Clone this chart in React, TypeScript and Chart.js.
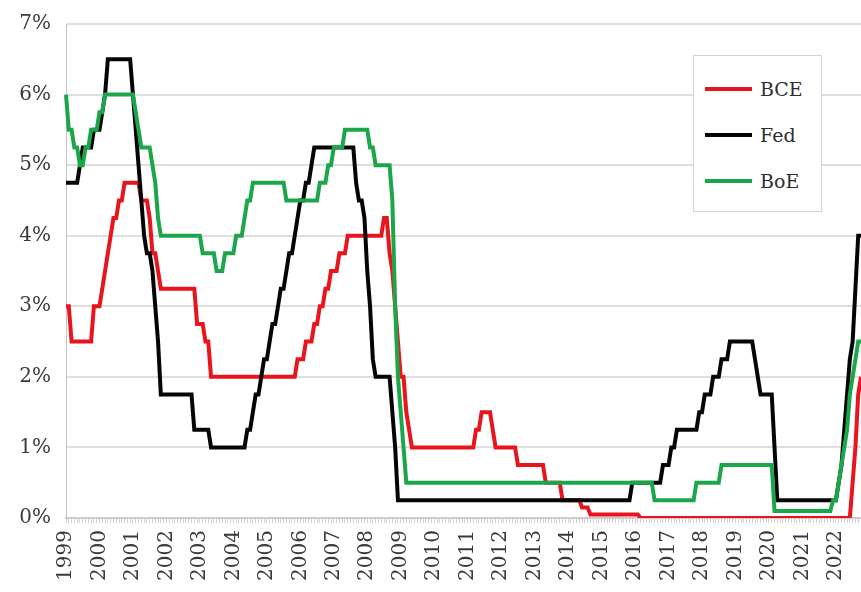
import React, { useEffect, useRef } from 'react';
import { Chart, registerables } from 'chart.js';

Chart.register(...registerables);

// Years shown on the x axis (one category per month, Jan 1999 – Oct 2022)
const yearLabels = [
  '1999', '2000', '2001', '2002', '2003', '2004', '2005', '2006',
  '2007', '2008', '2009', '2010', '2011', '2012', '2013', '2014',
  '2015', '2016', '2017', '2018', '2019', '2020', '2021', '2022',
];
const monthCodes = ['01', '02', '03', '04', '05', '06', '07', '08', '09', '10', '11', '12'];

// BCE (ECB) policy rate, %
const bce: number[] = [
  3.0, 3.0, 2.5, 2.5, 2.5, 2.5, 2.5, 2.5, 2.5, 2.5, 3.0, 3.0, // 1999
  3.0, 3.25, 3.5, 3.75, 4.0, 4.25, 4.25, 4.5, 4.5, 4.75, 4.75, 4.75, // 2000
  4.75, 4.75, 4.75, 4.5, 4.5, 4.5, 4.25, 3.75, 3.75, 3.5, 3.25, 3.25, // 2001
  3.25, 3.25, 3.25, 3.25, 3.25, 3.25, 3.25, 3.25, 3.25, 3.25, 3.25, 2.75, // 2002
  2.75, 2.75, 2.5, 2.5, 2.0, 2.0, 2.0, 2.0, 2.0, 2.0, 2.0, 2.0, // 2003
  2.0, 2.0, 2.0, 2.0, 2.0, 2.0, 2.0, 2.0, 2.0, 2.0, 2.0, 2.0, // 2004
  2.0, 2.0, 2.0, 2.0, 2.0, 2.0, 2.0, 2.0, 2.0, 2.0, 2.0, 2.25, // 2005
  2.25, 2.25, 2.5, 2.5, 2.5, 2.75, 2.75, 3.0, 3.0, 3.25, 3.25, 3.5, // 2006
  3.5, 3.5, 3.75, 3.75, 3.75, 4.0, 4.0, 4.0, 4.0, 4.0, 4.0, 4.0, // 2007
  4.0, 4.0, 4.0, 4.0, 4.0, 4.0, 4.25, 4.25, 3.75, 3.5, 3.0, 2.5, // 2008
  2.0, 2.0, 1.5, 1.25, 1.0, 1.0, 1.0, 1.0, 1.0, 1.0, 1.0, 1.0, // 2009
  1.0, 1.0, 1.0, 1.0, 1.0, 1.0, 1.0, 1.0, 1.0, 1.0, 1.0, 1.0, // 2010
  1.0, 1.0, 1.0, 1.25, 1.25, 1.5, 1.5, 1.5, 1.5, 1.25, 1.0, 1.0, // 2011
  1.0, 1.0, 1.0, 1.0, 1.0, 1.0, 0.75, 0.75, 0.75, 0.75, 0.75, 0.75, // 2012
  0.75, 0.75, 0.75, 0.75, 0.5, 0.5, 0.5, 0.5, 0.5, 0.5, 0.25, 0.25, // 2013
  0.25, 0.25, 0.25, 0.25, 0.25, 0.15, 0.15, 0.15, 0.05, 0.05, 0.05, 0.05, // 2014
  0.05, 0.05, 0.05, 0.05, 0.05, 0.05, 0.05, 0.05, 0.05, 0.05, 0.05, 0.05, // 2015
  0.05, 0.05, 0, 0, 0, 0, 0, 0, 0, 0, 0, 0, // 2016
  0, 0, 0, 0, 0, 0, 0, 0, 0, 0, 0, 0, // 2017
  0, 0, 0, 0, 0, 0, 0, 0, 0, 0, 0, 0, // 2018
  0, 0, 0, 0, 0, 0, 0, 0, 0, 0, 0, 0, // 2019
  0, 0, 0, 0, 0, 0, 0, 0, 0, 0, 0, 0, // 2020
  0, 0, 0, 0, 0, 0, 0, 0, 0, 0, 0, 0, // 2021
  0, 0, 0, 0, 0, 0, 0.5, 1.0, 1.75, 2.0, // 2022
];

// Fed funds rate (upper bound), %
const fed: number[] = [
  4.75, 4.75, 4.75, 4.75, 4.75, 5.0, 5.25, 5.25, 5.25, 5.25, 5.5, 5.5, // 1999
  5.5, 5.75, 6.0, 6.5, 6.5, 6.5, 6.5, 6.5, 6.5, 6.5, 6.5, 6.5, // 2000
  6.0, 5.5, 5.0, 4.5, 4.0, 3.75, 3.75, 3.5, 3.0, 2.5, 1.75, 1.75, // 2001
  1.75, 1.75, 1.75, 1.75, 1.75, 1.75, 1.75, 1.75, 1.75, 1.75, 1.25, 1.25, // 2002
  1.25, 1.25, 1.25, 1.25, 1.0, 1.0, 1.0, 1.0, 1.0, 1.0, 1.0, 1.0, // 2003
  1.0, 1.0, 1.0, 1.0, 1.0, 1.25, 1.25, 1.5, 1.75, 1.75, 2.0, 2.25, // 2004
  2.25, 2.5, 2.75, 2.75, 3.0, 3.25, 3.25, 3.5, 3.75, 3.75, 4.0, 4.25, // 2005
  4.5, 4.5, 4.75, 4.75, 5.0, 5.25, 5.25, 5.25, 5.25, 5.25, 5.25, 5.25, // 2006
  5.25, 5.25, 5.25, 5.25, 5.25, 5.25, 5.25, 5.25, 4.75, 4.5, 4.5, 4.25, // 2007
  3.5, 3.0, 2.25, 2.0, 2.0, 2.0, 2.0, 2.0, 2.0, 1.5, 1.0, 0.25, // 2008
  0.25, 0.25, 0.25, 0.25, 0.25, 0.25, 0.25, 0.25, 0.25, 0.25, 0.25, 0.25, // 2009
  0.25, 0.25, 0.25, 0.25, 0.25, 0.25, 0.25, 0.25, 0.25, 0.25, 0.25, 0.25, // 2010
  0.25, 0.25, 0.25, 0.25, 0.25, 0.25, 0.25, 0.25, 0.25, 0.25, 0.25, 0.25, // 2011
  0.25, 0.25, 0.25, 0.25, 0.25, 0.25, 0.25, 0.25, 0.25, 0.25, 0.25, 0.25, // 2012
  0.25, 0.25, 0.25, 0.25, 0.25, 0.25, 0.25, 0.25, 0.25, 0.25, 0.25, 0.25, // 2013
  0.25, 0.25, 0.25, 0.25, 0.25, 0.25, 0.25, 0.25, 0.25, 0.25, 0.25, 0.25, // 2014
  0.25, 0.25, 0.25, 0.25, 0.25, 0.25, 0.25, 0.25, 0.25, 0.25, 0.25, 0.5, // 2015
  0.5, 0.5, 0.5, 0.5, 0.5, 0.5, 0.5, 0.5, 0.5, 0.5, 0.75, 0.75, // 2016
  0.75, 1.0, 1.0, 1.25, 1.25, 1.25, 1.25, 1.25, 1.25, 1.25, 1.25, 1.5, // 2017
  1.5, 1.75, 1.75, 1.75, 2.0, 2.0, 2.0, 2.25, 2.25, 2.25, 2.5, 2.5, // 2018
  2.5, 2.5, 2.5, 2.5, 2.5, 2.5, 2.5, 2.25, 2.0, 1.75, 1.75, 1.75, // 2019
  1.75, 1.75, 1.0, 0.25, 0.25, 0.25, 0.25, 0.25, 0.25, 0.25, 0.25, 0.25, // 2020
  0.25, 0.25, 0.25, 0.25, 0.25, 0.25, 0.25, 0.25, 0.25, 0.25, 0.25, 0.25, // 2021
  0.25, 0.5, 0.75, 1.25, 1.75, 2.25, 2.5, 3.25, 4.0, 4.0, // 2022
];

// BoE Bank Rate, %
const boe: number[] = [
  6.0, 5.5, 5.5, 5.25, 5.25, 5.0, 5.0, 5.25, 5.25, 5.5, 5.5, 5.5, // 1999
  5.75, 5.75, 6.0, 6.0, 6.0, 6.0, 6.0, 6.0, 6.0, 6.0, 6.0, 6.0, // 2000
  6.0, 5.75, 5.5, 5.25, 5.25, 5.25, 5.25, 5.0, 4.75, 4.25, 4.0, 4.0, // 2001
  4.0, 4.0, 4.0, 4.0, 4.0, 4.0, 4.0, 4.0, 4.0, 4.0, 4.0, 4.0, // 2002
  4.0, 3.75, 3.75, 3.75, 3.75, 3.75, 3.5, 3.5, 3.5, 3.75, 3.75, 3.75, // 2003
  3.75, 4.0, 4.0, 4.0, 4.25, 4.5, 4.5, 4.75, 4.75, 4.75, 4.75, 4.75, // 2004
  4.75, 4.75, 4.75, 4.75, 4.75, 4.75, 4.75, 4.5, 4.5, 4.5, 4.5, 4.5, // 2005
  4.5, 4.5, 4.5, 4.5, 4.5, 4.5, 4.5, 4.75, 4.75, 4.75, 5.0, 5.0, // 2006
  5.25, 5.25, 5.25, 5.25, 5.5, 5.5, 5.5, 5.5, 5.5, 5.5, 5.5, 5.5, // 2007
  5.5, 5.25, 5.25, 5.0, 5.0, 5.0, 5.0, 5.0, 5.0, 4.5, 3.0, 2.0, // 2008
  1.5, 1.0, 0.5, 0.5, 0.5, 0.5, 0.5, 0.5, 0.5, 0.5, 0.5, 0.5, // 2009
  0.5, 0.5, 0.5, 0.5, 0.5, 0.5, 0.5, 0.5, 0.5, 0.5, 0.5, 0.5, // 2010
  0.5, 0.5, 0.5, 0.5, 0.5, 0.5, 0.5, 0.5, 0.5, 0.5, 0.5, 0.5, // 2011
  0.5, 0.5, 0.5, 0.5, 0.5, 0.5, 0.5, 0.5, 0.5, 0.5, 0.5, 0.5, // 2012
  0.5, 0.5, 0.5, 0.5, 0.5, 0.5, 0.5, 0.5, 0.5, 0.5, 0.5, 0.5, // 2013
  0.5, 0.5, 0.5, 0.5, 0.5, 0.5, 0.5, 0.5, 0.5, 0.5, 0.5, 0.5, // 2014
  0.5, 0.5, 0.5, 0.5, 0.5, 0.5, 0.5, 0.5, 0.5, 0.5, 0.5, 0.5, // 2015
  0.5, 0.5, 0.5, 0.5, 0.5, 0.5, 0.5, 0.25, 0.25, 0.25, 0.25, 0.25, // 2016
  0.25, 0.25, 0.25, 0.25, 0.25, 0.25, 0.25, 0.25, 0.25, 0.25, 0.5, 0.5, // 2017
  0.5, 0.5, 0.5, 0.5, 0.5, 0.5, 0.5, 0.75, 0.75, 0.75, 0.75, 0.75, // 2018
  0.75, 0.75, 0.75, 0.75, 0.75, 0.75, 0.75, 0.75, 0.75, 0.75, 0.75, 0.75, // 2019
  0.75, 0.75, 0.1, 0.1, 0.1, 0.1, 0.1, 0.1, 0.1, 0.1, 0.1, 0.1, // 2020
  0.1, 0.1, 0.1, 0.1, 0.1, 0.1, 0.1, 0.1, 0.1, 0.1, 0.1, 0.25, // 2021
  0.25, 0.5, 0.75, 1.0, 1.25, 1.75, 2.0, 2.25, 2.5, 2.5, // 2022
];

const seriesNames = ['BCE', 'Fed', 'BoE'];
const seriesColors = ['#e8151d', '#050505', '#1ca64a'];
const yMin = 0;
const yMax = 7;
const yStep = 1;

const FONT = "'DejaVu Serif', 'Liberation Serif', serif";

const monthLabels: string[] = yearLabels
  .flatMap((y) => monthCodes.map((m) => `${y}-${m}`))
  .slice(0, bce.length);

export default function App() {
  const canvasRef = useRef<HTMLCanvasElement | null>(null);

  useEffect(() => {
    const canvas = canvasRef.current;
    if (!canvas) return;
    const seriesData = [bce, fed, boe];
    const drawOrder = [3, 2, 1];
    const chart = new Chart(canvas, {
      type: 'line',
      data: {
        labels: monthLabels,
        datasets: seriesNames.map((name, k) => ({
          label: name,
          data: seriesData[k],
          borderColor: seriesColors[k],
          backgroundColor: seriesColors[k],
          borderWidth: 4,
          pointRadius: 0,
          pointHoverRadius: 0,
          tension: 0,
          fill: false,
          order: drawOrder[k],
        })),
      },
      options: {
        animation: false,
        responsive: false,
        maintainAspectRatio: false,
        layout: { padding: { top: 24, left: 0, right: 0, bottom: 0 } },
        plugins: {
          legend: { display: false },
          tooltip: { enabled: false },
          title: { display: false },
        },
        scales: {
          x: {
            type: 'category',
            offset: false,
            grid: {
              drawOnChartArea: false,
              drawTicks: true,
              tickLength: 5,
              tickColor: '#d0d0d0',
              lineWidth: 1,
            },
            border: { display: true, color: '#cccccc', width: 2 },
            ticks: {
              autoSkip: false,
              minRotation: 90,
              maxRotation: 90,
              padding: 7,
              color: '#3a3a3a',
              font: { family: FONT, size: 20 },
              callback: (_v: any, i: number) =>
                monthLabels[i].endsWith('-01') ? monthLabels[i].slice(0, 4) : '',
            },
            afterFit: (s: any) => {
              s.height = 74;
              s.paddingLeft = 0;
              s.paddingRight = 0;
            },
          },
          y: {
            min: yMin,
            max: yMax,
            grid: { color: '#dedede', lineWidth: 2, drawTicks: false },
            border: { display: true, color: '#c4c4c4', width: 1 },
            ticks: {
              stepSize: yStep,
              padding: 15,
              color: '#3a3a3a',
              font: { family: FONT, size: 20 },
              callback: (v: any) => `${v}%`,
            },
            afterFit: (s: any) => {
              s.width = 66;
              s.paddingTop = 0;
              s.paddingBottom = 0;
            },
          },
        },
      },
    });
    return () => chart.destroy();
  }, []);

  return (
    <div
      style={{
        position: 'fixed',
        left: 0,
        top: 0,
        width: 861,
        height: 592,
        overflow: 'hidden',
        background: '#ffffff',
      }}
    >
      <canvas ref={canvasRef} width={861} height={592} style={{ display: 'block' }} />
      <div
        style={{
          position: 'absolute',
          left: 693,
          top: 55,
          width: 127,
          height: 155,
          border: '1px solid #d4d4d4',
          background: '#ffffff',
          fontFamily: FONT,
          fontSize: 19,
          color: '#2e2e2e',
        }}
      >
        {seriesNames.map((name, k) => (
          <div
            key={name}
            style={{
              position: 'absolute',
              left: 11,
              top: 33 + k * 46 - 12,
              height: 24,
              display: 'flex',
              alignItems: 'center',
              whiteSpace: 'nowrap',
            }}
          >
            <span
              style={{
                display: 'inline-block',
                width: 47,
                height: 4,
                background: seriesColors[k],
                marginRight: 8,
              }}
            />
            <span>{name}</span>
          </div>
        ))}
      </div>
    </div>
  );
}
